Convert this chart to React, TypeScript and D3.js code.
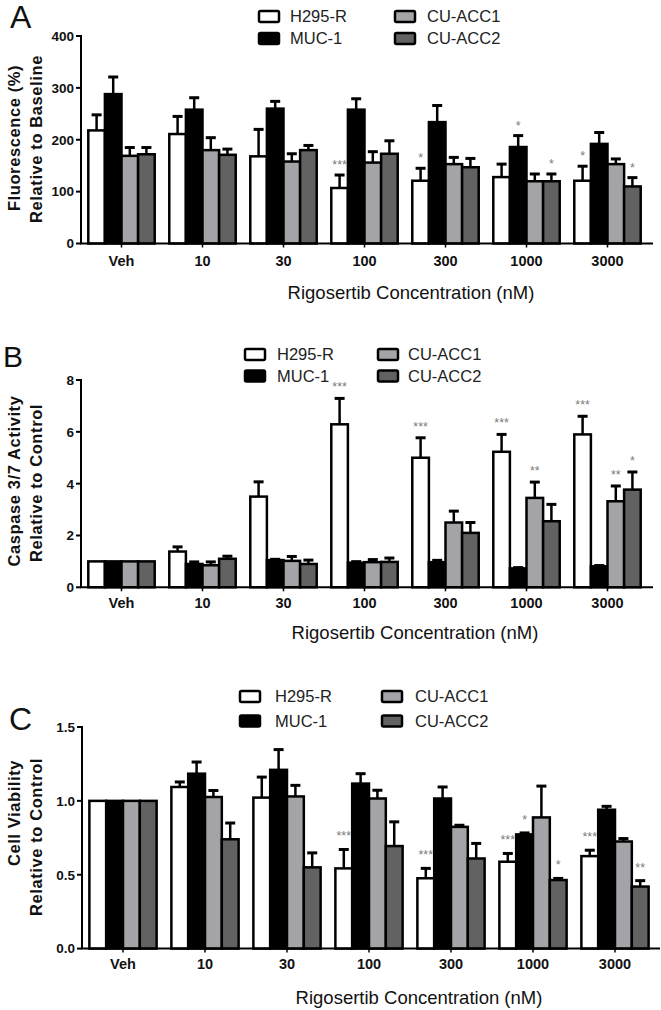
import React from "react";
import * as d3 from "d3";

// ---------- shared categories / series ----------
const categories = ["Veh", "10", "30", "100", "300", "1000", "3000"];
const seriesNames = ["H295-R", "MUC-1", "CU-ACC1", "CU-ACC2"];
const seriesFills = ["#ffffff", "#000000", "#a4a4a8", "#626262"];
const xTitle = "Rigosertib Concentration (nM)";

// ---------- Panel A: Fluorescence (%) ----------
const aH295R = [218, 211, 168, 107, 121, 128, 121];
const aH295RErr = [30, 34, 52, 25, 24, 25, 28];
const aMUC1 = [288, 258, 260, 258, 234, 186, 192];
const aMUC1Err = [33, 23, 14, 21, 32, 22, 22];
const aACC1 = [169, 180, 158, 156, 153, 120, 153];
const aACC1Err = [16, 24, 15, 21, 13, 14, 10];
const aACC2 = [172, 171, 180, 173, 147, 120, 110];
const aACC2Err = [13, 11, 9, 25, 17, 14, 17];
const aTicks = [0, 100, 200, 300, 400];
const aStars: [string, number, string][] = [
  ["100", 0, "***"], ["300", 0, "*"], ["1000", 1, "*"], ["1000", 3, "*"], ["3000", 0, "*"], ["3000", 3, "*"],
];

// ---------- Panel B: Caspase 3/7 ----------
const bH295R = [1, 1.38, 3.5, 6.29, 5.0, 5.23, 5.9];
const bH295RErr = [0, 0.18, 0.57, 1.0, 0.77, 0.67, 0.7];
const bMUC1 = [1, 0.9, 1.05, 0.95, 0.97, 0.73, 0.81];
const bMUC1Err = [0, 0.08, 0.03, 0.04, 0.07, 0.03, 0.03];
const bACC1 = [1, 0.85, 1.02, 0.97, 2.5, 3.45, 3.32];
const bACC1Err = [0, 0.13, 0.17, 0.1, 0.44, 0.61, 0.59];
const bACC2 = [1, 1.1, 0.9, 0.98, 2.1, 2.55, 3.77];
const bACC2Err = [0, 0.1, 0.15, 0.15, 0.4, 0.65, 0.68];
const bTicks = [0, 2, 4, 6, 8];
const bStars: [string, number, string][] = [
  ["100", 0, "***"], ["300", 0, "***"], ["1000", 0, "***"], ["1000", 2, "**"], ["3000", 0, "***"], ["3000", 2, "**"], ["3000", 3, "*"],
];

// ---------- Panel C: Cell viability ----------
const cH295R = [1, 1.094, 1.022, 0.543, 0.476, 0.588, 0.626];
const cH295RErr = [0, 0.034, 0.139, 0.128, 0.067, 0.056, 0.04];
const cMUC1 = [1, 1.184, 1.21, 1.117, 1.016, 0.773, 0.94];
const cMUC1Err = [0, 0.079, 0.137, 0.067, 0.078, 0.01, 0.023];
const cACC1 = [1, 1.026, 1.03, 1.016, 0.824, 0.888, 0.725];
const cACC1Err = [0, 0.044, 0.075, 0.056, 0.011, 0.212, 0.02];
const cACC2 = [1, 0.74, 0.55, 0.694, 0.61, 0.464, 0.42];
const cACC2Err = [0, 0.11, 0.098, 0.164, 0.102, 0.011, 0.04];
const cTicks = [0, 0.5, 1.0, 1.5];
const cStars: [string, number, string][] = [
  ["100", 0, "***"], ["300", 0, "***"], ["1000", 0, "***"], ["1000", 1, "*"], ["1000", 3, "*"], ["3000", 0, "***"], ["3000", 3, "**"],
];

const FONT = "'Liberation Sans', Arial, Helvetica, sans-serif";

type PanelProps = {
  letter: string;
  letterX: number;
  letterY: number;
  letterSize: number;
  means: number[][];
  errs: number[][];
  stars: [string, number, string][];
  ticks: number[];
  tickFmt: (v: number) => string;
  yMax: number;
  yTop: number;
  yBottom: number;
  xStart: number;
  xEnd: number;
  axisEnd: number;
  yTitle: string[];
  yTitleCenters: number[];
  xLabelY: number;
  xTitleY: number;
  xTitleX: number;
  legendBoxX: number[];
  legendTextX: number[];
  legendRowY: number[];
  starOffset: number;
};

function Panel(p: PanelProps) {
  const x = d3.scaleBand<string>().domain(categories).range([p.xStart, p.xEnd]).paddingInner(0.18).paddingOuter(0.09);
  const xs = d3.scaleBand<string>().domain(seriesNames).range([0, x.bandwidth()]).padding(0);
  const y = d3.scaleLinear().domain([0, p.yMax]).range([p.yBottom, p.yTop]);
  const axisX = p.xStart;
  const y0 = y(0);
  const capW = 10;

  return (
    <g>
      <text x={p.letterX} y={p.letterY} fontFamily={FONT} fontSize={p.letterSize} fill="#111">{p.letter}</text>

      {/* legend */}
      {seriesNames.map((s, i) => {
        const col = Math.floor(i / 2);
        const row = i % 2;
        const by = p.legendRowY[row];
        return (
          <g key={s}>
            <rect x={p.legendBoxX[col]} y={by - 5.5} width={20} height={11} fill={seriesFills[i]} stroke="#000" strokeWidth={2.5} rx={1.5} />
            <text x={p.legendTextX[col]} y={by} dy="0.36em" fontFamily={FONT} fontSize={16.5} fill="#222">{s}</text>
          </g>
        );
      })}

      {/* bars */}
      {p.means.map((vals, si) =>
        vals.map((v, ci) => {
          const cat = categories[ci];
          const bx = (x(cat) as number) + (xs(seriesNames[si]) as number);
          return (
            <rect key={`b${si}-${ci}`} x={bx} y={y(v)} width={xs.bandwidth()} height={y0 - y(v)}
              fill={seriesFills[si]} stroke="#000" strokeWidth={2.5} />
          );
        })
      )}

      {/* error bars */}
      {p.means.map((vals, si) =>
        vals.map((v, ci) => {
          const e = p.errs[si][ci];
          if (!e) return null;
          const cat = categories[ci];
          const cx = (x(cat) as number) + (xs(seriesNames[si]) as number) + xs.bandwidth() / 2;
          return (
            <g key={`e${si}-${ci}`}>
              <line x1={cx} x2={cx} y1={y(v)} y2={y(v + e)} stroke="#000" strokeWidth={2.5} />
              <line x1={cx - capW / 2} x2={cx + capW / 2} y1={y(v + e)} y2={y(v + e)} stroke="#000" strokeWidth={3} />
            </g>
          );
        })
      )}

      {/* significance stars */}
      {p.stars.map(([cat, si, lab], k) => {
        const ci = categories.indexOf(cat);
        const v = p.means[si][ci] + p.errs[si][ci];
        const cx = (x(cat) as number) + (xs(seriesNames[si]) as number) + xs.bandwidth() / 2;
        return (
          <text key={`s${k}`} x={cx} y={y(v) - p.starOffset + 6} textAnchor="middle" fontFamily={FONT} fontSize={12.5} fill="#7a7a7a">{lab}</text>
        );
      })}

      {/* y axis */}
      <line x1={axisX} x2={axisX} y1={y(p.yMax) - 1} y2={y0} stroke="#000" strokeWidth={2} />
      {p.ticks.map((t) => (
        <g key={`t${t}`}>
          <line x1={axisX - 5} x2={axisX} y1={y(t)} y2={y(t)} stroke="#000" strokeWidth={2} />
          <text x={axisX - 7} y={y(t)} dy="0.36em" textAnchor="end" fontFamily={FONT} fontWeight="bold" fontSize={13.5} fill="#111">{p.tickFmt(t)}</text>
        </g>
      ))}

      {/* x axis */}
      <line x1={axisX - 1} x2={p.axisEnd} y1={y0} y2={y0} stroke="#000" strokeWidth={2} />
      {categories.map((c) => {
        const cx = (x(c) as number) + x.bandwidth() / 2;
        return (
          <g key={`x${c}`}>
            <line x1={cx} x2={cx} y1={y0} y2={y0 + 4} stroke="#000" strokeWidth={1.5} />
            <text x={cx} y={p.xLabelY} dy="0.36em" textAnchor="middle" fontFamily={FONT} fontWeight="bold" fontSize={14.5} fill="#111">{c}</text>
          </g>
        );
      })}
      <text x={p.xTitleX} y={p.xTitleY} dy="0.36em" textAnchor="middle" fontFamily={FONT} fontSize={18.5} fill="#111">{xTitle}</text>

      {/* y title */}
      {p.yTitle.map((line, i) => (
        <text key={`yt${i}`} transform={`translate(${i === 0 ? 20 : 42},${p.yTitleCenters[i]}) rotate(-90)`} textAnchor="middle"
          fontFamily={FONT} fontWeight="bold" fontSize={16.5} letterSpacing={0.6} fill="#111">{line}</text>
      ))}
    </g>
  );
}

export default function App() {
  const f0 = d3.format("d");
  const f1 = d3.format(".1f");
  return (
    <div style={{ position: "absolute", left: 0, top: 0 }}>
      <svg width={661} height={1010} style={{ display: "block", background: "#fff" }}>
        <rect width={661} height={1010} fill="#fff" />
        <Panel
          letter="A" letterX={10} letterY={28} letterSize={32}
          means={[aH295R, aMUC1, aACC1, aACC2]} errs={[aH295RErr, aMUC1Err, aACC1Err, aACC2Err]}
          stars={aStars} ticks={aTicks} tickFmt={f0} yMax={400} yTop={36} yBottom={243.5}
          xStart={81} xEnd={648} axisEnd={653}
          yTitle={["Fluorescence (%)", "Relative to Baseline"]} yTitleCenters={[138, 139]}
          xLabelY={261} xTitleY={292} xTitleX={411}
          legendBoxX={[259, 395]} legendTextX={[290, 427]} legendRowY={[16.5, 38.5]} starOffset={12}
        />
        <Panel
          letter="B" letterX={3} letterY={367} letterSize={30}
          means={[bH295R, bMUC1, bACC1, bACC2]} errs={[bH295RErr, bMUC1Err, bACC1Err, bACC2Err]}
          stars={bStars} ticks={bTicks} tickFmt={f0} yMax={8} yTop={380} yBottom={587.3}
          xStart={81} xEnd={648} axisEnd={653}
          yTitle={["Caspase 3/7 Activity", "Relative to Control"]} yTitleCenters={[481, 483]}
          xLabelY={602.5} xTitleY={632} xTitleX={415}
          legendBoxX={[245, 378]} legendTextX={[277, 408]} legendRowY={[354.5, 376]} starOffset={13}
        />
        <Panel
          letter="C" letterX={9} letterY={730} letterSize={32}
          means={[cH295R, cMUC1, cACC1, cACC2]} errs={[cH295RErr, cMUC1Err, cACC1Err, cACC2Err]}
          stars={cStars} ticks={cTicks} tickFmt={f1} yMax={1.5} yTop={727} yBottom={948.6}
          xStart={82} xEnd={656} axisEnd={660}
          yTitle={["Cell Viability", "Relative to Control"]} yTitleCenters={[813, 837]}
          xLabelY={964} xTitleY={997} xTitleX={419}
          legendBoxX={[240, 382]} legendTextX={[275, 415]} legendRowY={[696.5, 721]} starOffset={15}
        />
      </svg>
    </div>
  );
}
